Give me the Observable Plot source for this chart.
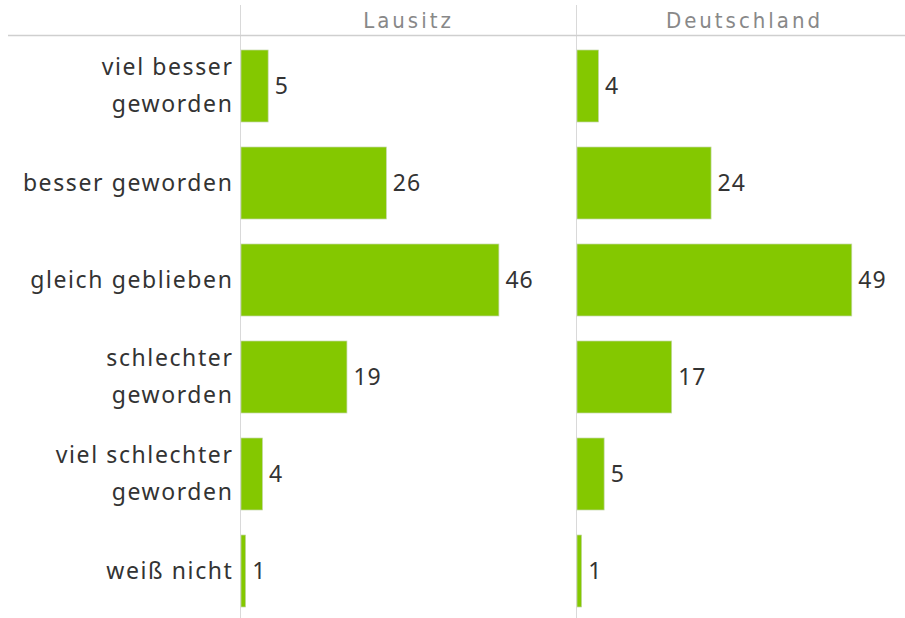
<!DOCTYPE html>
<html>
<head>
<meta charset="utf-8">
<script src="https://cdn.jsdelivr.net/npm/d3@7"></script>
<script src="https://cdn.jsdelivr.net/npm/@observablehq/plot@0.6"></script>
<style>
  html, body { margin: 0; padding: 0; background: #fff; }
  #chart svg { display: block; }
</style>
</head>
<body>
<div id="chart"></div>
<script>
const categories = ["viel besser geworden", "besser geworden", "gleich geblieben", "schlechter geworden", "viel schlechter geworden", "weiß nicht"];
const categoryLabels = ["viel besser\ngeworden", "besser geworden", "gleich geblieben", "schlechter\ngeworden", "viel schlechter\ngeworden", "weiß nicht"];
const regions = ["Lausitz", "Deutschland"];
const lausitzValues = [5, 26, 46, 19, 4, 1];
const deutschlandValues = [4, 24, 49, 17, 5, 1];

const data = [];
categories.forEach((c, i) => {
  data.push({region: "Lausitz", category: c, value: lausitzValues[i]});
  data.push({region: "Deutschland", category: c, value: deutschlandValues[i]});
});
const labelMap = new Map(categories.map((c, i) => [c, categoryLabels[i]]));
const multiLine = categories.filter(c => labelMap.get(c).includes("\n"));
const singleLine = categories.filter(c => !labelMap.get(c).includes("\n"));

const W = 905, H = 618;
const fontBody = "'Noto Sans', 'Open Sans', sans-serif";
const fontHead = "'Liberation Sans Narrow', 'DejaVu Sans Condensed', sans-serif";

const plot = Plot.plot({
  width: W,
  height: H,
  marginLeft: 240,
  marginRight: -7,
  marginTop: 35,
  marginBottom: 0,
  style: {fontFamily: fontBody, background: "#fff", overflow: "visible"},
  fx: {domain: regions, padding: 0, label: null},
  x: {domain: [0, 59.7], axis: null},
  y: {domain: categories, range: [48, 610], paddingInner: 0.254, paddingOuter: 0, label: null},
  marks: [
    Plot.ruleX(data.filter(d => d.category === categories[0]), {fx: "region", x: 0, stroke: "#d9d9d9", strokeWidth: 1}),
    Plot.barX(data, {fx: "region", y: "category", x: "value", fill: "#84c800", stroke: "#c4d6a8", strokeWidth: 0.7, insetLeft: 1}),
    Plot.text(data, {fx: "region", y: "category", x: "value", text: d => String(d.value), textAnchor: "start", dx: 6, dy: 0, fontSize: 23, fill: "#333", fontFamily: fontBody}),
    Plot.axisY({ticks: singleLine, tickSize: 0, tickPadding: 7, fontSize: 23, dy: 0, fill: "#333", tickFormat: d => labelMap.get(d), fontFamily: fontBody}),
    Plot.axisY({ticks: multiLine, tickSize: 0, tickPadding: 7, fontSize: 23, lineHeight: 1.61, dy: -5, fill: "#333", tickFormat: d => labelMap.get(d), fontFamily: fontBody}),
    Plot.axisFx({anchor: "top", tickSize: 0, tickPadding: 8, fontSize: 22, fill: "#888", fontFamily: fontHead, label: null})
  ]
});

const svg = d3.select(plot);
// text spacing to match the original typography
svg.selectAll('[aria-label="y-axis tick label"] text').style("letter-spacing", "1.6px");
svg.selectAll('[aria-label="text"] text').style("letter-spacing", "1px");
svg.selectAll('[aria-label="fx-axis tick label"] text').style("letter-spacing", "3px");

// decorative header grid lines
const fx = plot.scale("fx");
svg.append("line").attr("x1", 8).attr("x2", W).attr("y1", 35.5).attr("y2", 35.5).attr("stroke", "#cfcfcf").attr("stroke-width", 1.5);
regions.forEach(r => {
  const x0 = Math.round(fx.apply(r)) + 0.5;
  svg.append("line").attr("x1", x0).attr("x2", x0).attr("y1", 5).attr("y2", 35).attr("stroke", "#d9d9d9").attr("stroke-width", 1);
});

document.getElementById("chart").appendChild(plot);
</script>
</body>
</html>
